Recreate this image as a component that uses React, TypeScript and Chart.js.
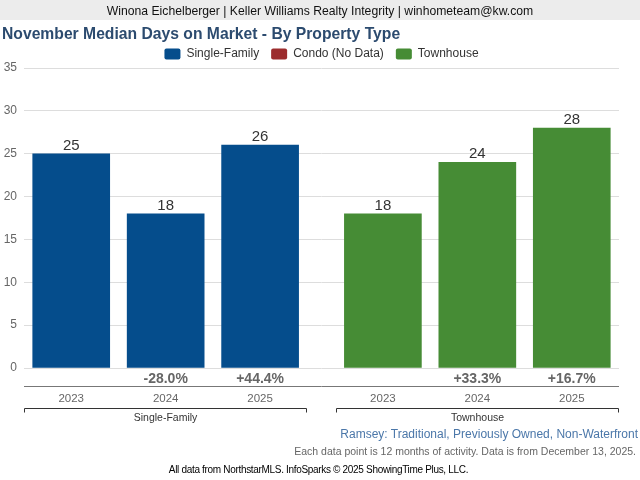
import React, { useEffect, useRef } from 'react';
import { Chart, registerables } from 'chart.js';

Chart.register(...registerables);

const FONT = '"Liberation Sans", Arial, Helvetica, sans-serif';

const headerText = 'Winona Eichelberger | Keller Williams Realty Integrity | winhometeam@kw.com';
const titleText = 'November Median Days on Market - By Property Type';
const years = ['2023', '2024', '2025'];
const groupLabels = ['Single-Family', 'Townhouse'];
const seriesLabels = ['Single-Family', 'Condo (No Data)', 'Townhouse'];
const seriesColors = ['#054d8c', '#9c2c2d', '#468c35'];
const singleFamilyDays = [25, 18, 26];
const condoDays: number[] = [];
const townhouseDays = [18, 24, 28];
const singleFamilyChange = ['', '-28.0%', '+44.4%'];
const condoChange: string[] = [];
const townhouseChange = ['', '+33.3%', '+16.7%'];
const yMin = 0;
const yMax = 35;
const yStep = 5;
const footerArea = 'Ramsey: Traditional, Previously Owned, Non-Waterfront';
const footerNote = 'Each data point is 12 months of activity. Data is from December 13, 2025.';
const footerSource = 'All data from NorthstarMLS. InfoSparks \u00A9 2025 ShowingTime Plus, LLC.';

const GROUP_GAP = 0.3;
const pos = (g: number, i: number) => g * (years.length + GROUP_GAP) + i;

// which x-group each series sits in (Condo has no data)
const seriesGroup = [0, -1, 1];
const seriesValues = [singleFamilyDays, condoDays, townhouseDays];
const seriesChanges = [singleFamilyChange, condoChange, townhouseChange];

const legendShiftPlugin = {
  id: 'legendShift',
  afterLayout(chart: any) {
    const lg = chart.legend;
    if (lg) {
      lg.top += 2;
      lg.bottom += 2;
    }
  },
};

const decorPlugin = {
  id: 'decor',
  afterDatasetsDraw(chart: any) {
    const { ctx, chartArea } = chart;
    const xs = chart.scales.x;
    ctx.save();
    chart.data.datasets.forEach((ds: any, di: number) => {
      const meta = chart.getDatasetMeta(di);
      meta.data.forEach((bar: any, i: number) => {
        const v = ds.data[i].y;
        ctx.font = `15px ${FONT}`;
        ctx.fillStyle = '#333333';
        ctx.textAlign = 'center';
        ctx.textBaseline = 'alphabetic';
        ctx.fillText(String(v), bar.x, bar.y - 4);
        const ch = seriesChanges[di][i];
        if (ch) {
          ctx.font = `bold 14px ${FONT}`;
          ctx.fillStyle = '#666666';
          ctx.fillText(ch, bar.x, chartArea.bottom + 15);
        }
      });
    });
    ctx.strokeStyle = '#777777';
    ctx.lineWidth = 1;
    ctx.beginPath();
    ctx.moveTo(chartArea.left, Math.round(chartArea.bottom + 18) + 0.5);
    ctx.lineTo(chartArea.right, Math.round(chartArea.bottom + 18) + 0.5);
    ctx.stroke();
    groupLabels.forEach((label, g) => {
      const x0 = Math.round(xs.getPixelForValue(pos(g, 0) - 0.5)) + 0.5;
      const x1 = Math.round(xs.getPixelForValue(pos(g, years.length - 1) + 0.5)) - 0.5;
      const y = Math.round(chartArea.bottom + 40) + 0.5;
      ctx.strokeStyle = '#333333';
      ctx.beginPath();
      ctx.moveTo(x0, y + 4);
      ctx.lineTo(x0, y);
      ctx.lineTo(x1, y);
      ctx.lineTo(x1, y + 4);
      ctx.stroke();
      ctx.font = `10.5px ${FONT}`;
      ctx.fillStyle = '#333333';
      ctx.textAlign = 'center';
      ctx.textBaseline = 'alphabetic';
      ctx.fillText(label, (x0 + x1) / 2, chartArea.bottom + 53);
    });
    ctx.restore();
  },
};

export default function App() {
  const canvasRef = useRef<HTMLCanvasElement | null>(null);

  useEffect(() => {
    if (!canvasRef.current) return;
    const tickPositions: number[] = [];
    groupLabels.forEach((_, g) => years.forEach((__, i) => tickPositions.push(pos(g, i))));

    const datasets = seriesLabels.map((label, si) => ({
      label,
      data: seriesValues[si].map((v, i) => ({ x: pos(seriesGroup[si], i), y: v })),
      backgroundColor: seriesColors[si],
      borderWidth: 0,
      barThickness: 77,
      stack: 'propertyType',
    }));

    const chart = new Chart(canvasRef.current, {
      type: 'bar',
      data: { datasets },
      options: {
        animation: false,
        responsive: false,
        maintainAspectRatio: false,
        layout: { padding: { top: 34, left: 0, right: 21, bottom: 52 } },
        plugins: {
          legend: {
            position: 'top',
            fullSize: false,
            onClick: () => {},
            labels: {
              boxWidth: 16,
              boxHeight: 11,
              padding: 12,
              color: '#333333',
              font: { size: 12, family: FONT },
              useBorderRadius: true,
              borderRadius: 2,
            },
          },
          title: { display: false },
          tooltip: { enabled: false },
        },
        scales: {
          x: {
            type: 'linear',
            offset: false,
            min: pos(0, 0) - 0.5,
            max: pos(groupLabels.length - 1, years.length - 1) + 0.5,
            grid: { display: false, drawTicks: false },
            border: { display: false },
            afterBuildTicks: (s: any) => {
              s.ticks = tickPositions.map((v) => ({ value: v }));
            },
            afterFit: (s: any) => {
              s.height = 60;
            },
            ticks: {
              autoSkip: false,
              maxRotation: 0,
              padding: 24,
              color: '#666666',
              font: { size: 11.5, family: FONT },
              callback: (_v: any, i: number) => years[i % years.length],
            },
          },
          y: {
            min: yMin,
            max: yMax,
            grid: { color: '#dddddd', drawTicks: false },
            border: { display: false },
            afterFit: (s: any) => {
              s.width = 24;
            },
            ticks: {
              stepSize: yStep,
              padding: 7,
              color: '#666666',
              font: { size: 12, family: FONT },
            },
          },
        },
      } as any,
      plugins: [legendShiftPlugin, decorPlugin],
    });
    return () => chart.destroy();
  }, []);

  const abs: React.CSSProperties = { position: 'absolute', whiteSpace: 'nowrap', fontFamily: FONT };

  return (
    <div style={{ position: 'absolute', left: 0, top: 0, width: 640, height: 480, background: '#ffffff', overflow: 'hidden' }}>
      <div style={{ ...abs, left: 0, top: 0, width: 640, height: 20, background: '#ececec' }} />
      <canvas ref={canvasRef} width={640} height={480} style={{ position: 'absolute', left: 0, top: 0, width: 640, height: 480 }} />
      <div style={{ ...abs, left: 0, top: 1, width: 640, height: 20, lineHeight: '20px', fontSize: 12.2, color: '#111111', textAlign: 'center' }}>
        {headerText}
      </div>
      <div style={{ ...abs, left: 2, top: 24, lineHeight: '20px', fontSize: 15.7, fontWeight: 'bold', color: '#2c4b6f' }}>
        {titleText}
      </div>
      <div style={{ ...abs, right: 2, top: 426, lineHeight: '16px', fontSize: 12, color: '#4b77a9' }}>{footerArea}</div>
      <div style={{ ...abs, right: 4, top: 444, lineHeight: '14px', fontSize: 10.5, color: '#666666' }}>{footerNote}</div>
      <div style={{ ...abs, left: 0, width: 637, top: 463, lineHeight: '13px', fontSize: 10, letterSpacing: '-0.32px', color: '#000000', textAlign: 'center' }}>
        {footerSource}
      </div>
    </div>
  );
}
